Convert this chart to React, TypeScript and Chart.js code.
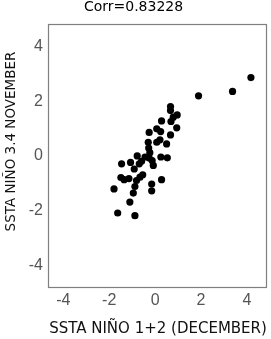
import React, { useEffect, useRef } from "react";
import { Chart, registerables } from "chart.js";

Chart.register(...registerables);

const titleText = "Corr=0.83228";
const xLabel = "SSTA NIÑO 1+2 (DECEMBER)";
const yLabel = "SSTA NIÑO 3.4 NOVEMBER";
const xTicks = [-4, -2, 0, 2, 4];
const yTicks = [-4, -2, 0, 2, 4];
const xRange = [-4.62, 4.87];
const yRange = [-4.8, 4.83];

const nino12Dec = [
  4.17, 3.37, 1.89, 0.67, 0.67, 0.96, 0.79, 0.69, 0.28, 0.94, 0.07, 0.24,
  -0.26, 0.67, 0.21, -0.3, 0.5, 0.07, -0.28, -0.23, -0.78, -0.44, -0.26, 0.25,
  0.53, -0.13, -0.59, -0.69, -0.08, -1.46, -1.07, -0.91, -0.54, -0.66, -1.49,
  -1.35, -1.14, -0.81, 0.28, -0.15, -0.88, -1.79, -0.15, -0.95, -1.1, -1.63,
  -0.88,
];
const nino34Nov = [
  2.87, 2.36, 2.2, 1.81, 1.66, 1.5, 1.42, 1.26, 1.28, 1.03, 0.99, 0.89, 0.86,
  0.77, 0.59, 0.5, 0.44, 0.5, 0.29, 0.12, 0.0, -0.04, -0.08, -0.04, -0.07,
  -0.17, -0.2, -0.29, -0.35, -0.29, -0.24, -0.48, -0.69, -0.78, -0.79, -0.87,
  -0.83, -0.9, -0.87, -1.03, -1.12, -1.21, -1.28, -1.36, -1.69, -2.09, -2.19,
];

const boxPlugin = {
  id: "boxAndYTitle",
  afterDraw(chart: any) {
    const { ctx, chartArea } = chart;
    const { left, right, top, bottom } = chartArea;
    ctx.save();
    ctx.strokeStyle = "#7f7f7f";
    ctx.lineWidth = 1.2;
    ctx.strokeRect(left - 0.5, top + 0.5, right - left, bottom - top);
    ctx.translate(11.7, (top + bottom) / 2 - 14);
    ctx.rotate(-Math.PI / 2);
    ctx.fillStyle = "#111";
    ctx.font = "13.5px 'DejaVu Sans'";
    ctx.textAlign = "center";
    ctx.textBaseline = "middle";
    ctx.fillText(yLabel, 0, 0);
    ctx.restore();
  },
};

export default function App() {
  const ref = useRef<HTMLCanvasElement>(null);
  useEffect(() => {
    document.body.style.margin = "0";
    const points = nino12Dec.map((x, i) => ({ x, y: nino34Nov[i] }));
    const chart = new Chart(ref.current!, {
      type: "scatter",
      data: {
        datasets: [
          {
            data: points,
            backgroundColor: "#000",
            borderWidth: 0,
            pointRadius: 3.6,
          },
        ],
      },
      options: {
        animation: false,
        responsive: false,
        layout: { padding: { left: 0, right: 4, top: 0, bottom: 0 } },
        plugins: {
          legend: { display: false },
          tooltip: { enabled: false },
          title: {
            display: true,
            text: titleText,
            color: "#000",
            font: { family: "'DejaVu Sans'", size: 14, weight: "normal", lineHeight: 1.2 },
            padding: { top: -1.5, bottom: 8.7 },
          },
        },
        scales: {
          x: {
            type: "linear",
            min: xRange[0],
            max: xRange[1],
            afterBuildTicks: (axis: any) => {
              axis.ticks = xTicks.map((v) => ({ value: v }));
            },
            afterFit: (s: any) => {
              s.height = 52;
            },
            grid: { display: false, drawTicks: false },
            border: { display: false },
            ticks: {
              color: "#555",
              padding: 4,
              font: { family: "'Liberation Sans'", size: 16 },
            },
            title: {
              display: true,
              text: xLabel,
              color: "#111",
              font: { family: "'DejaVu Sans'", size: 15, lineHeight: 1.2 },
              padding: { top: 0, bottom: 1 },
            },
          },
          y: {
            type: "linear",
            min: yRange[0],
            max: yRange[1],
            afterBuildTicks: (axis: any) => {
              axis.ticks = yTicks.map((v) => ({ value: v }));
            },
            afterFit: (s: any) => {
              s.width = 49;
            },
            grid: { display: false, drawTicks: false },
            border: { display: false },
            ticks: {
              color: "#555",
              padding: 6,
              font: { family: "'Liberation Sans'", size: 16 },
            },
          },
        },
      },
      plugins: [boxPlugin],
    });
    return () => chart.destroy();
  }, []);
  return (
    <div style={{ position: "fixed", left: 0, top: 0, width: 271, height: 339 }}>
      <canvas ref={ref} width={271} height={339} />
    </div>
  );
}
